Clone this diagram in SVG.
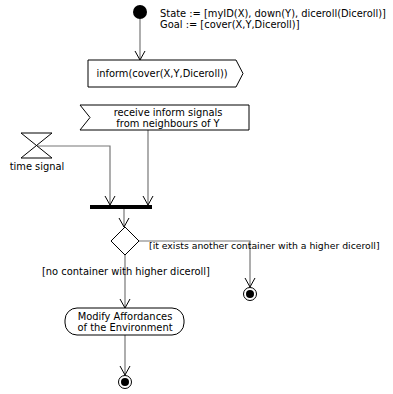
<svg xmlns="http://www.w3.org/2000/svg" width="393" height="394" viewBox="0 0 393 394">
<defs>
<marker id="arr" markerWidth="12" markerHeight="12" refX="10" refY="6" orient="auto" markerUnits="userSpaceOnUse">
<path d="M1,1 L10,6 L1,11" fill="none" stroke="#000" stroke-width="1"/>
</marker>
<style>
.t{font-family:"DejaVu Sans",sans-serif;font-size:9.9px;fill:#000}
.s{fill:#fff;stroke:#000;stroke-width:1}
.c{fill:none;stroke:#777;stroke-width:1.2}
</style>
</defs>
<rect width="393" height="394" fill="#fff"/>
<g id="connectors">
<path class="c" d="M140,19 V60" marker-end="url(#arr)"/>
<path class="c" d="M148,130 V205" marker-end="url(#arr)"/>
<path class="c" d="M37,146 H110 V205" marker-end="url(#arr)"/>
<path class="c" d="M124,209 V227" marker-end="url(#arr)"/>
<path class="c" d="M139,241 H250 V287" marker-end="url(#arr)"/>
<path class="c" d="M125,255 V308" marker-end="url(#arr)"/>
<path class="c" d="M125,335 V375" marker-end="url(#arr)"/>
</g>
<g id="initial">
<circle cx="140" cy="12" r="7" fill="#000"/>
<text class="t" x="160" y="17">State := [myID(X), down(Y), diceroll(Diceroll)]</text>
<text class="t" x="160" y="28">Goal := [cover(X,Y,Diceroll)]</text>
</g>
<g id="send">
<path class="s" d="M88,60 H236 L243,73.5 L236,87 H88 Z"/>
<text class="t" x="162" y="77" text-anchor="middle">inform(cover(X,Y,Diceroll))</text>
</g>
<g id="receive">
<path class="s" d="M80,105 H249 V130 H80 L90,117.5 Z"/>
<text class="t" x="168" y="116" text-anchor="middle">receive inform signals</text>
<text class="t" x="168" y="127" text-anchor="middle">from neighbours of Y</text>
</g>
<g id="timesignal">
<path class="s" d="M21,133 H52 L21,158 H52 Z"/>
<text class="t" x="37" y="170" text-anchor="middle">time signal</text>
</g>
<g id="join">
<rect x="90" y="205" width="62" height="4" fill="#000"/>
</g>
<g id="decision">
<path class="s" d="M125,227 L139,241 L125,255 L111,241 Z"/>
<text class="t" x="149" y="249" style="font-size:9.3px">[it exists another container with a higher diceroll]</text>
<text class="t" x="42" y="275">[no container with higher diceroll]</text>
</g>
<g id="final1">
<circle cx="250" cy="294" r="6.5" class="s"/>
<circle cx="250" cy="294" r="4" fill="#000"/>
</g>
<g id="action">
<rect x="65" y="308" width="119" height="27" rx="12" ry="12" class="s"/>
<text class="t" x="125" y="320" text-anchor="middle">Modify Affordances</text>
<text class="t" x="125" y="331" text-anchor="middle">of the Environment</text>
</g>
<g id="final2">
<circle cx="125" cy="382" r="6.5" class="s"/>
<circle cx="125" cy="382" r="4" fill="#000"/>
</g>
</svg>
